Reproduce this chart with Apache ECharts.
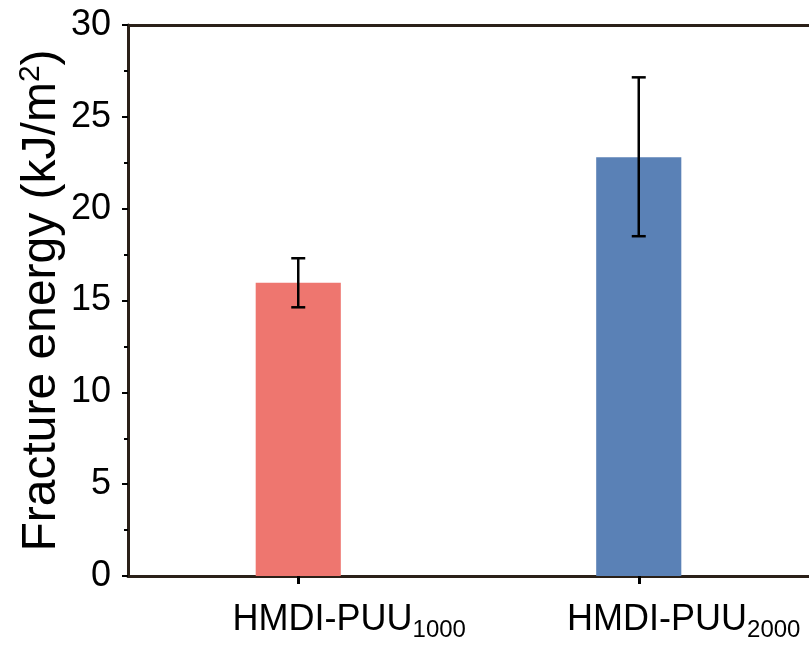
<!DOCTYPE html>
<html>
<head>
<meta charset="utf-8">
<script src="https://cdn.jsdelivr.net/npm/echarts@6/dist/echarts.min.js"></script>
<style>
  html, body { margin: 0; padding: 0; background: #fff; }
  #chart { width: 809px; height: 653px; }
</style>
</head>
<body>
<div id="chart"></div>
<script>
// Sample names (base + subscript) and fracture energy statistics
const sampleBase = ['HMDI-PUU', 'HMDI-PUU'];
const sampleSub = ['1000', '2000'];
const fractureEnergy = [15.97, 22.8];
const errLower = [14.63, 18.5];
const errUpper = [17.3, 27.15];
const barColors = ['#EE766F', '#5A81B6'];
const yTicks = [0, 5, 10, 15, 20, 25, 30];
const yMin = 0;
const yMax = 30;

const categories = sampleBase.map((b, i) => b + sampleSub[i]);
const FONT = '"Liberation Sans", Arial, sans-serif';
const AXIS_COLOR = '#2a2018';
// left padding that nudges each category label to the right of its tick
const labelShift = [102, 90];

const chart = echarts.init(document.getElementById('chart'), null, { renderer: 'canvas' });

const xRich = {};
sampleBase.forEach((b, i) => {
  xRich['a' + i] = { fontFamily: FONT, fontSize: 36, color: '#000', lineHeight: 44, padding: [0, 0, 0, labelShift[i]] };
  xRich['b' + i] = { fontFamily: FONT, fontSize: 24, color: '#000', lineHeight: 18, verticalAlign: 'bottom' };
});

const option = {
  backgroundColor: '#ffffff',
  animation: false,
  grid: { left: 128, top: 25, right: 0, bottom: 77, containLabel: false, outerBoundsMode: 'none' },
  xAxis: {
    type: 'category',
    data: categories,
    position: 'bottom',
    axisLine: { show: true, onZero: false, lineStyle: { color: AXIS_COLOR, width: 3 } },
    axisTick: { show: true, alignWithLabel: true, length: 8, lineStyle: { color: '#000', width: 3 } },
    axisLabel: {
      margin: 22,
      interval: 0,
      formatter: (v, i) => '{a' + i + '|' + sampleBase[i] + '}{b' + i + '|' + sampleSub[i] + '}',
      rich: xRich
    },
    splitLine: { show: false }
  },
  yAxis: [
    {
      type: 'value',
      min: yMin,
      max: yMax,
      interval: 5,
      position: 'left',
      name: '{a|Fracture energy (kJ/m}{s|2}{a|)}',
      nameLocation: 'middle',
      nameRotate: 90,
      nameGap: 60,
      nameMoveOverlap: false,
      nameTextStyle: {
        rich: {
          a: { fontFamily: FONT, fontSize: 48, color: '#000', lineHeight: 52 },
          s: { fontFamily: FONT, fontSize: 30, color: '#000', lineHeight: 52, verticalAlign: 'top' }
        }
      },
      axisLine: { show: true, onZero: false, lineStyle: { color: AXIS_COLOR, width: 3 } },
      axisTick: { show: true, length: 6, lineStyle: { color: '#000', width: 2 } },
      minorTick: { show: true, splitNumber: 2, length: 4, lineStyle: { color: '#000', width: 2 } },
      axisLabel: {
        margin: 17,
        fontFamily: FONT,
        fontSize: 36,
        color: '#000',
        formatter: v => (yTicks.indexOf(v) >= 0 ? String(v) : '')
      },
      splitLine: { show: false }
    },
    {
      type: 'value',
      min: yMin,
      max: yMax,
      interval: 5,
      position: 'right',
      axisLine: { show: true, onZero: false, lineStyle: { color: '#a0a0a0', width: 1 } },
      axisTick: { show: false },
      axisLabel: { show: false },
      splitLine: { show: false }
    }
  ],
  series: [
    {
      type: 'bar',
      xAxisIndex: 0,
      yAxisIndex: 0,
      barWidth: '25%',
      data: fractureEnergy.map((v, i) => ({ value: v, itemStyle: { color: barColors[i] } })),
      // top frame line at the axis maximum
      markLine: {
        silent: true,
        symbol: ['none', 'none'],
        label: { show: false },
        lineStyle: { color: AXIS_COLOR, width: 3, type: 'solid' },
        data: [{ yAxis: yMax }]
      },
      z: 2
    },
    {
      type: 'custom',
      xAxisIndex: 0,
      yAxisIndex: 0,
      data: categories.map((c, i) => [i, errLower[i], errUpper[i]]),
      renderItem: (params, api) => {
        const lo = api.coord([api.value(0), api.value(1)]);
        const hi = api.coord([api.value(0), api.value(2)]);
        const half = 7;
        const style = { stroke: '#000', lineWidth: 2.5 };
        return {
          type: 'group',
          children: [
            { type: 'line', shape: { x1: lo[0], y1: lo[1], x2: hi[0], y2: hi[1] }, style },
            { type: 'line', shape: { x1: lo[0] - half, y1: lo[1], x2: lo[0] + half, y2: lo[1] }, style },
            { type: 'line', shape: { x1: hi[0] - half, y1: hi[1], x2: hi[0] + half, y2: hi[1] }, style }
          ]
        };
      },
      z: 3
    }
  ]
};

chart.setOption(option);
</script>
</body>
</html>
